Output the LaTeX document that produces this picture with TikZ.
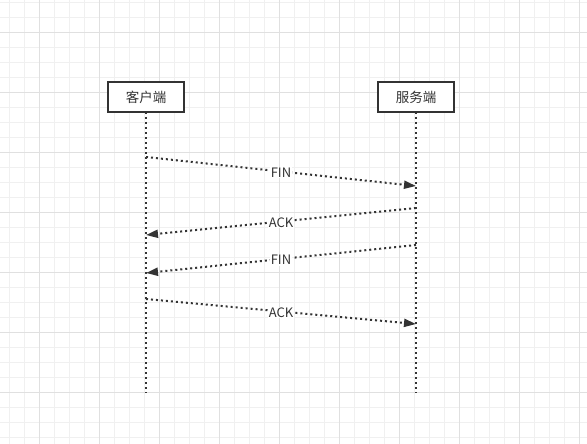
\documentclass[tikz,border=0pt]{standalone}
\usepackage{fontspec}
\setmainfont{Noto Sans CJK SC}
\usetikzlibrary{arrows.meta}
\definecolor{gridminor}{HTML}{F0F0F0}
\definecolor{gridmajor}{HTML}{E0E0E0}
\definecolor{ink}{HTML}{333333}
\tikzset{
  actor/.style={draw=ink, line width=1.7pt, fill=white, minimum width=76pt, minimum height=30pt, inner sep=0pt, font=\fontsize{13.5}{15}\selectfont, text=ink},
  lifeline/.style={draw=ink, line width=2pt, dash pattern=on 2pt off 3pt},
  msg/.style={draw=ink, line width=2pt, dash pattern=on 2pt off 3pt, -{Triangle[length=12pt,width=8pt]}},
  msglabel/.style={fill=white, inner sep=1pt, font=\fontsize{13}{15}\selectfont, text=ink, yshift=-1pt}
}
\begin{document}
\begin{tikzpicture}[x=1pt,y=-1pt]
\useasboundingbox (0,0) rectangle (587,444);
\fill[white] (0,0) rectangle (587,444);
% grid
\foreach \x in {9,24,...,584} \draw[gridminor, line width=0.8pt] (\x,0) -- (\x,444);
\foreach \y in {2,17,...,442} \draw[gridminor, line width=0.8pt] (0,\y) -- (587,\y);
\foreach \x in {39,99,...,579} \draw[gridmajor, line width=0.8pt] (\x,0) -- (\x,444);
\foreach \y in {32,92,...,442} \draw[gridmajor, line width=0.8pt] (0,\y) -- (587,\y);
% lifelines
\coordinate (cb) at (146,393);
\coordinate (sb) at (416,393);
\draw[lifeline] (146,112) -- (cb);
\draw[lifeline] (416,112) -- (sb);
% actors
\node[actor] (c) at (146,97) {客户端};
\node[actor] (s) at (416,97) {服务端};
% message points
\coordinate (c1) at (146,157);
\coordinate (s1) at (416,186);
\coordinate (s2) at (416,208);
\coordinate (c2) at (146,235);
\coordinate (s3) at (416,245);
\coordinate (c3) at (146,273);
\coordinate (c4) at (146,299);
\coordinate (s4) at (416,324);
\draw[msg] (c1) -- node[msglabel] (l1) {FIN} (s1);
\draw[msg] (s2) -- node[msglabel] (l2) {ACK} (c2);
\draw[msg] (s3) -- node[msglabel] (l3) {FIN} (c3);
\draw[msg] (c4) -- node[msglabel] (l4) {ACK} (s4);
\end{tikzpicture}
\end{document}
